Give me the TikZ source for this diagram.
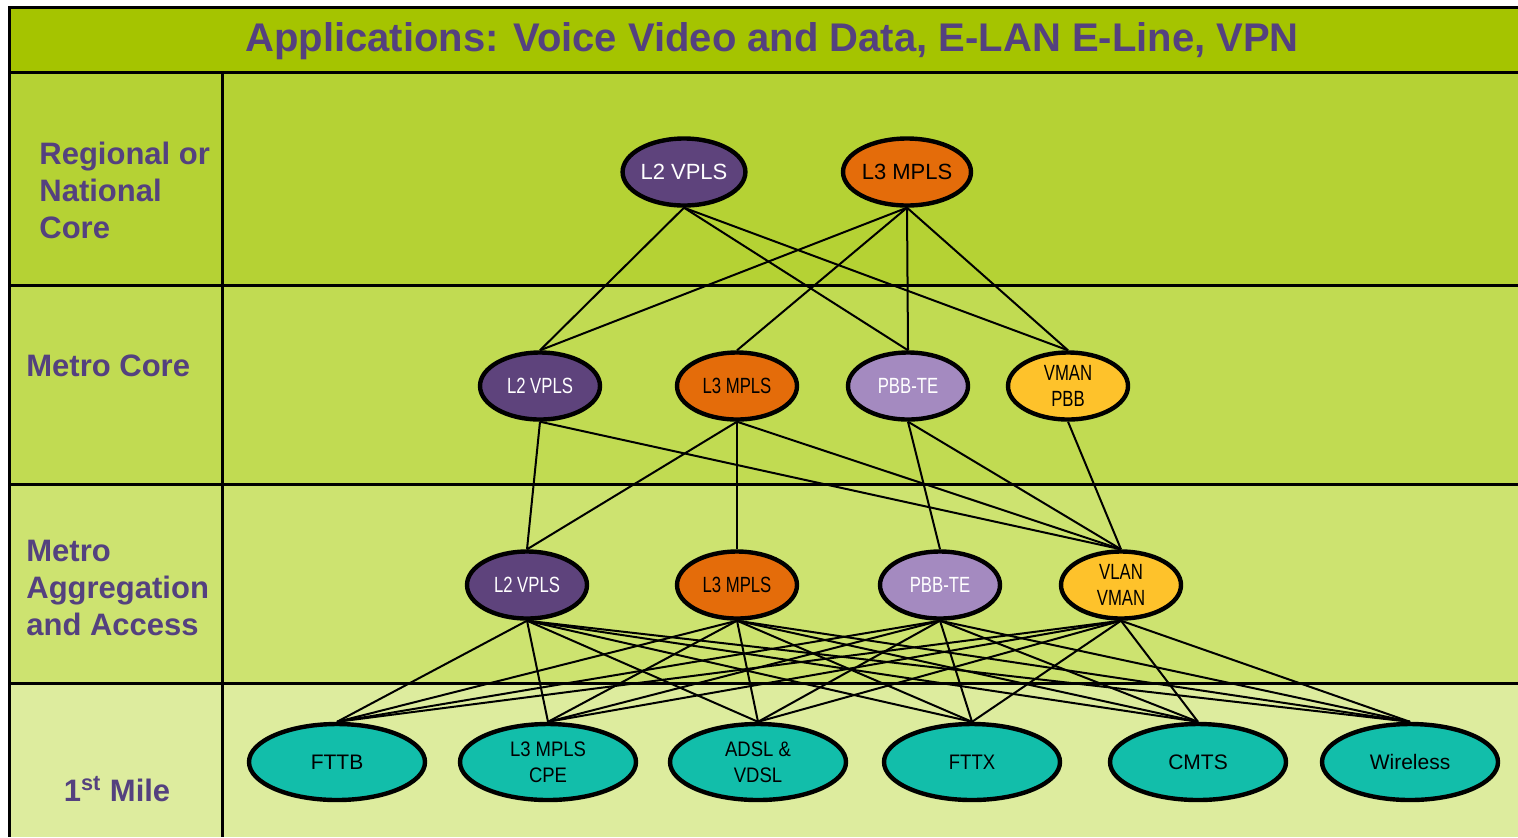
\documentclass[tikz,border=0pt]{standalone}
\usepackage{fontspec}
\setmainfont{Liberation Sans}
\newfontfamily\condfont[FakeStretch=0.76]{Liberation Sans}
\newfontfamily\semifont[FakeStretch=0.88]{Liberation Sans}
\usetikzlibrary{shapes.geometric}
\definecolor{titlegreen}{RGB}{165,196,0}
\definecolor{rowA}{RGB}{181,210,52}
\definecolor{rowB}{RGB}{193,219,82}
\definecolor{rowC}{RGB}{205,227,112}
\definecolor{rowD}{RGB}{221,236,158}
\definecolor{labpurple}{RGB}{84,65,127}
\definecolor{vplsc}{RGB}{94,67,124}
\definecolor{mplsc}{RGB}{228,108,10}
\definecolor{pbbc}{RGB}{164,138,192}
\definecolor{vmanc}{RGB}{254,194,43}
\definecolor{milec}{RGB}{18,190,170}
\tikzset{
	frame/.style={line width=1.5pt},
	rowlabel/.style={anchor=west,inner sep=0pt,align=left,text=labpurple,font=\bfseries\fontsize{15.5}{18.5}\selectfont},
	bub/.style={ellipse,draw,line width=2.2pt,inner sep=0pt,align=center,minimum width=60pt,minimum height=33.5pt,font=\fontsize{11}{13}\selectfont},
	cbub/.style={bub,font=\condfont\fontsize{11}{13}\selectfont},
	milebub/.style={bub,fill=milec,minimum width=88pt,minimum height=38pt,font=\fontsize{10.5}{13}\selectfont},
	link/.style={line width=1pt}
}

\begin{document}
\begin{tikzpicture}[x=0.5pt,y=-0.5pt]
	\useasboundingbox (0,0) rectangle (1518,837);
	\fill[white] (0,0) rectangle (1518,837);
	% bands
	\fill[titlegreen] (9,7) rectangle (1518,72);
	\fill[rowA] (9,72) rectangle (1518,285);
	\fill[rowB] (9,285) rectangle (1518,484);
	\fill[rowC] (9,484) rectangle (1518,683);
	\fill[rowD] (9,683) rectangle (1518,837);
	\draw[frame] (1518,7) -- (9,7) -- (9,837);
	\foreach \y in {72,285,484,683}{
		\draw[frame] (9,\y) -- (1518,\y);
	}
	\draw[frame] (222,72) -- (222,837);
	% texts
	\node[text=labpurple,font=\bfseries\fontsize{20}{24}\selectfont] (title) at (772,41) {Applications: Voice Video and Data, E-LAN E-Line, VPN};
	\node[rowlabel] (lab1) at (39,190) {Regional or\\National\\Core};
	\node[rowlabel] (lab2) at (26,366) {Metro Core};
	\node[rowlabel] (lab3) at (26,588) {Metro\\Aggregation\\and Access};
	\node[rowlabel,anchor=center] (lab4) at (117,789) {1\textsuperscript{st} Mile};
	% regional
	\node[bub,fill=vplsc,text=white] (rl2) at (684,172) {L2 VPLS};
	\node[bub,fill=mplsc] (rl3) at (907,172) {L3 MPLS};
	% metro core
	\node[cbub,fill=vplsc,text=white] (ml2) at (540,386) {L2 VPLS};
	\node[cbub,fill=mplsc] (ml3) at (737,386) {L3 MPLS};
	\node[cbub,fill=pbbc,text=white] (mpbb) at (908,386) {PBB-TE};
	\node[cbub,fill=vmanc] (mvman) at (1068,386) {VMAN\\PBB};
	% aggregation
	\node[cbub,fill=vplsc,text=white] (al2) at (527,585) {L2 VPLS};
	\node[cbub,fill=mplsc] (al3) at (737,585) {L3 MPLS};
	\node[cbub,fill=pbbc,text=white] (apbb) at (940,585) {PBB-TE};
	\node[cbub,fill=vmanc] (avlan) at (1121,585) {VLAN\\VMAN};
	% 1st mile
	\node[milebub] (fttb) at (337,762) {FTTB};
	\node[milebub,font=\semifont\fontsize{10.5}{13}\selectfont] (cpe) at (548,762) {L3 MPLS\\CPE};
	\node[milebub,font=\semifont\fontsize{10.5}{13}\selectfont] (adsl) at (758,762) {ADSL \&\\VDSL};
	\node[milebub,font=\semifont\fontsize{10.5}{13}\selectfont] (fttx) at (972,762) {FTTX};
	\node[milebub] (cmts) at (1198,762) {CMTS};
	\node[milebub] (wless) at (1410,762) {Wireless};
	% links
	\foreach \b in {ml2,mpbb,mvman}{
		\draw[link] (rl2.south) -- (\b.north);
	}
	\foreach \b in {ml2,ml3,mpbb,mvman}{
		\draw[link] (rl3.south) -- (\b.north);
	}
	\foreach \a/\b in {ml2/al2,ml2/avlan,ml3/al2,ml3/al3,ml3/avlan,mpbb/apbb,mpbb/avlan,mvman/avlan}{
		\draw[link] (\a.south) -- (\b.north);
	}
	\foreach \a in {al2,al3,apbb,avlan}{ %all to all
		\foreach \b in {fttb,cpe,adsl,fttx,cmts,wless}{
			\draw[link] (\a.south) -- (\b.north);
		}
	}
\end{tikzpicture}
\end{document}
